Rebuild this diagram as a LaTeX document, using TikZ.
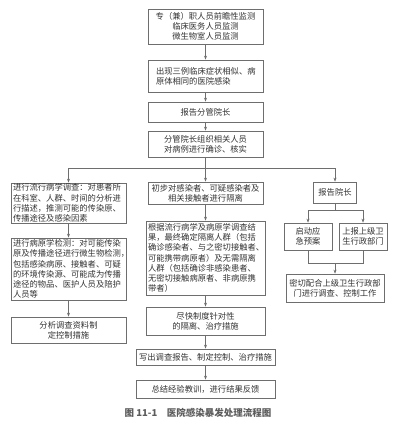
\documentclass[tikz,border=0pt]{standalone}
\usepackage{fontspec}
\newfontfamily\cjk{Noto Sans CJK SC}
\usetikzlibrary{arrows.meta}
\definecolor{lc}{HTML}{6E6E6E}
\definecolor{tc}{HTML}{333333}
\definecolor{capc}{HTML}{5C5C5C}
\newcommand\hp[1]{\makebox[0.5em][l]{#1}}
\begin{document}
\begin{tikzpicture}[x=1pt,y=-1pt,
  box/.style={draw=lc, line width=0.7pt, fill=white, text=tc,
    font=\cjk\fontsize{8.3}{10.2}\selectfont, inner xsep=2pt, inner ysep=0pt, align=center},
  lbox/.style={box, align=left},
  arr/.style={draw=lc, line width=0.6pt, -{Stealth[length=4pt,width=3pt]}},
  ln/.style={draw=lc, line width=0.6pt}]
\useasboundingbox (0,0) rectangle (400,427);
% main column
\node[box, text width=111pt, minimum height=35pt] (t1) at (205.5,26.5) {专（兼）职人员前瞻性监测\\临床医务人员监测\\微生物室人员监测};
\node[lbox, text width=99pt, inner xsep=8pt, minimum height=32pt] (t2) at (205.5,76) {出现三例临床症状相似、病\\原体相同的医院感染};
\node[box, text width=111pt, minimum height=20pt] (t3) at (205.5,112) {报告分管院长};
\node[box, text width=111pt, minimum height=26pt] (t4) at (205.5,144) {分管院长组织相关人员\\对病例进行确诊、核实};
\coordinate (bus) at (205.5,168);
% left column
\node[lbox, text width=111pt, minimum height=40pt] (l1) at (68.5,203) {进行流行病学调查：对患者所\\在科室、人群、时间的分析进\\行描述，推测可能的传染原、\\传播途径及感染因素};
\node[lbox, text width=111pt, minimum height=62pt] (l2) at (68.5,269) {进行病原学检测：对可能传染\\原及传播途径进行微生物检测\hp{，}\\包括感染病原、接触者、可疑\\的环境传染源、可能成为传播\\途径的物品、医护人员及陪护\\人员等};
\node[box, text width=111pt, minimum height=26pt] (l3) at (68.5,330) {分析调查资料制\\定控制措施};
% middle column
\node[box, text width=111pt, minimum height=22pt] (m1) at (205.5,193) {初步对感染者、可疑感染者及\\相关接触者进行隔离};
\node[lbox, text width=115pt, minimum height=74pt] (m2) at (205.5,258) {根据流行病学及病原学调查结\\果，最终确定隔离人群（包括\\确诊感染者、与之密切接触者\hp{、}\\可能携带病原者）及无需隔离\\人群（包括确诊非感染患者、\\无密切接触病原者、非病原携\\带者）};
\node[box, text width=115pt, minimum height=28pt] (m3) at (205.5,321) {尽快制度针对性\\的隔离、治疗措施};
\node[box, text width=135pt, minimum height=16pt] (m4) at (205.5,357) {写出调查报告、制定控制、治疗措施};
\node[box, text width=135pt, minimum height=18pt] (m5) at (205.5,389) {总结经验教训，进行结果反馈};
% right column
\node[box, text width=39pt, minimum height=21pt] (r1) at (335,192.5) {报告院长};
\coordinate (split) at (335,210);
\node[box, text width=44pt, minimum height=27pt] (r2a) at (308,236.5) {启动应\\急预案};
\node[box, text width=44pt, minimum height=27pt] (r2b) at (363,236.5) {上报上级卫\\生行政部门};
\coordinate (join) at (335,263);
\node[box, text width=94pt, minimum height=28pt] (r3) at (335,288) {密切配合上级卫生行政部\\门进行调查、控制工作};
% caption
\node[font=\cjk\bfseries\fontsize{9.5}{11}\selectfont, text=capc] (cap) at (198,413) {图 11-1\quad 医院感染暴发处理流程图};
% connectors
\draw[arr] (t1) -- (t2);
\draw[arr] (t2) -- (t3);
\draw[arr] (t3) -- (t4);
\draw[arr] (t4) -- (m1);
\draw[ln] (l1.north |- bus) -- (r1.north |- bus);
\draw[arr] (l1.north |- bus) -- (l1.north);
\draw[arr] (r1.north |- bus) -- (r1.north);
\draw[arr] (l1) -- (l2);
\draw[arr] (l2) -- (l3);
\draw[arr] (m1) -- (m2);
\draw[arr] (m2) -- (m3);
\draw[arr] (m3) -- (m4);
\draw[arr] (m4) -- (m5);
\draw[ln] (r1.south) -- (split);
\draw[ln] (r2a.north |- split) -- (r2b.north |- split);
\draw[arr] (r2a.north |- split) -- (r2a.north);
\draw[arr] (r2b.north |- split) -- (r2b.north);
\draw[ln] (r2a.south) -- (r2a.south |- join) -- (r2b.south |- join) -- (r2b.south);
\draw[arr] (join) -- (r3.north);
\end{tikzpicture}
\end{document}
